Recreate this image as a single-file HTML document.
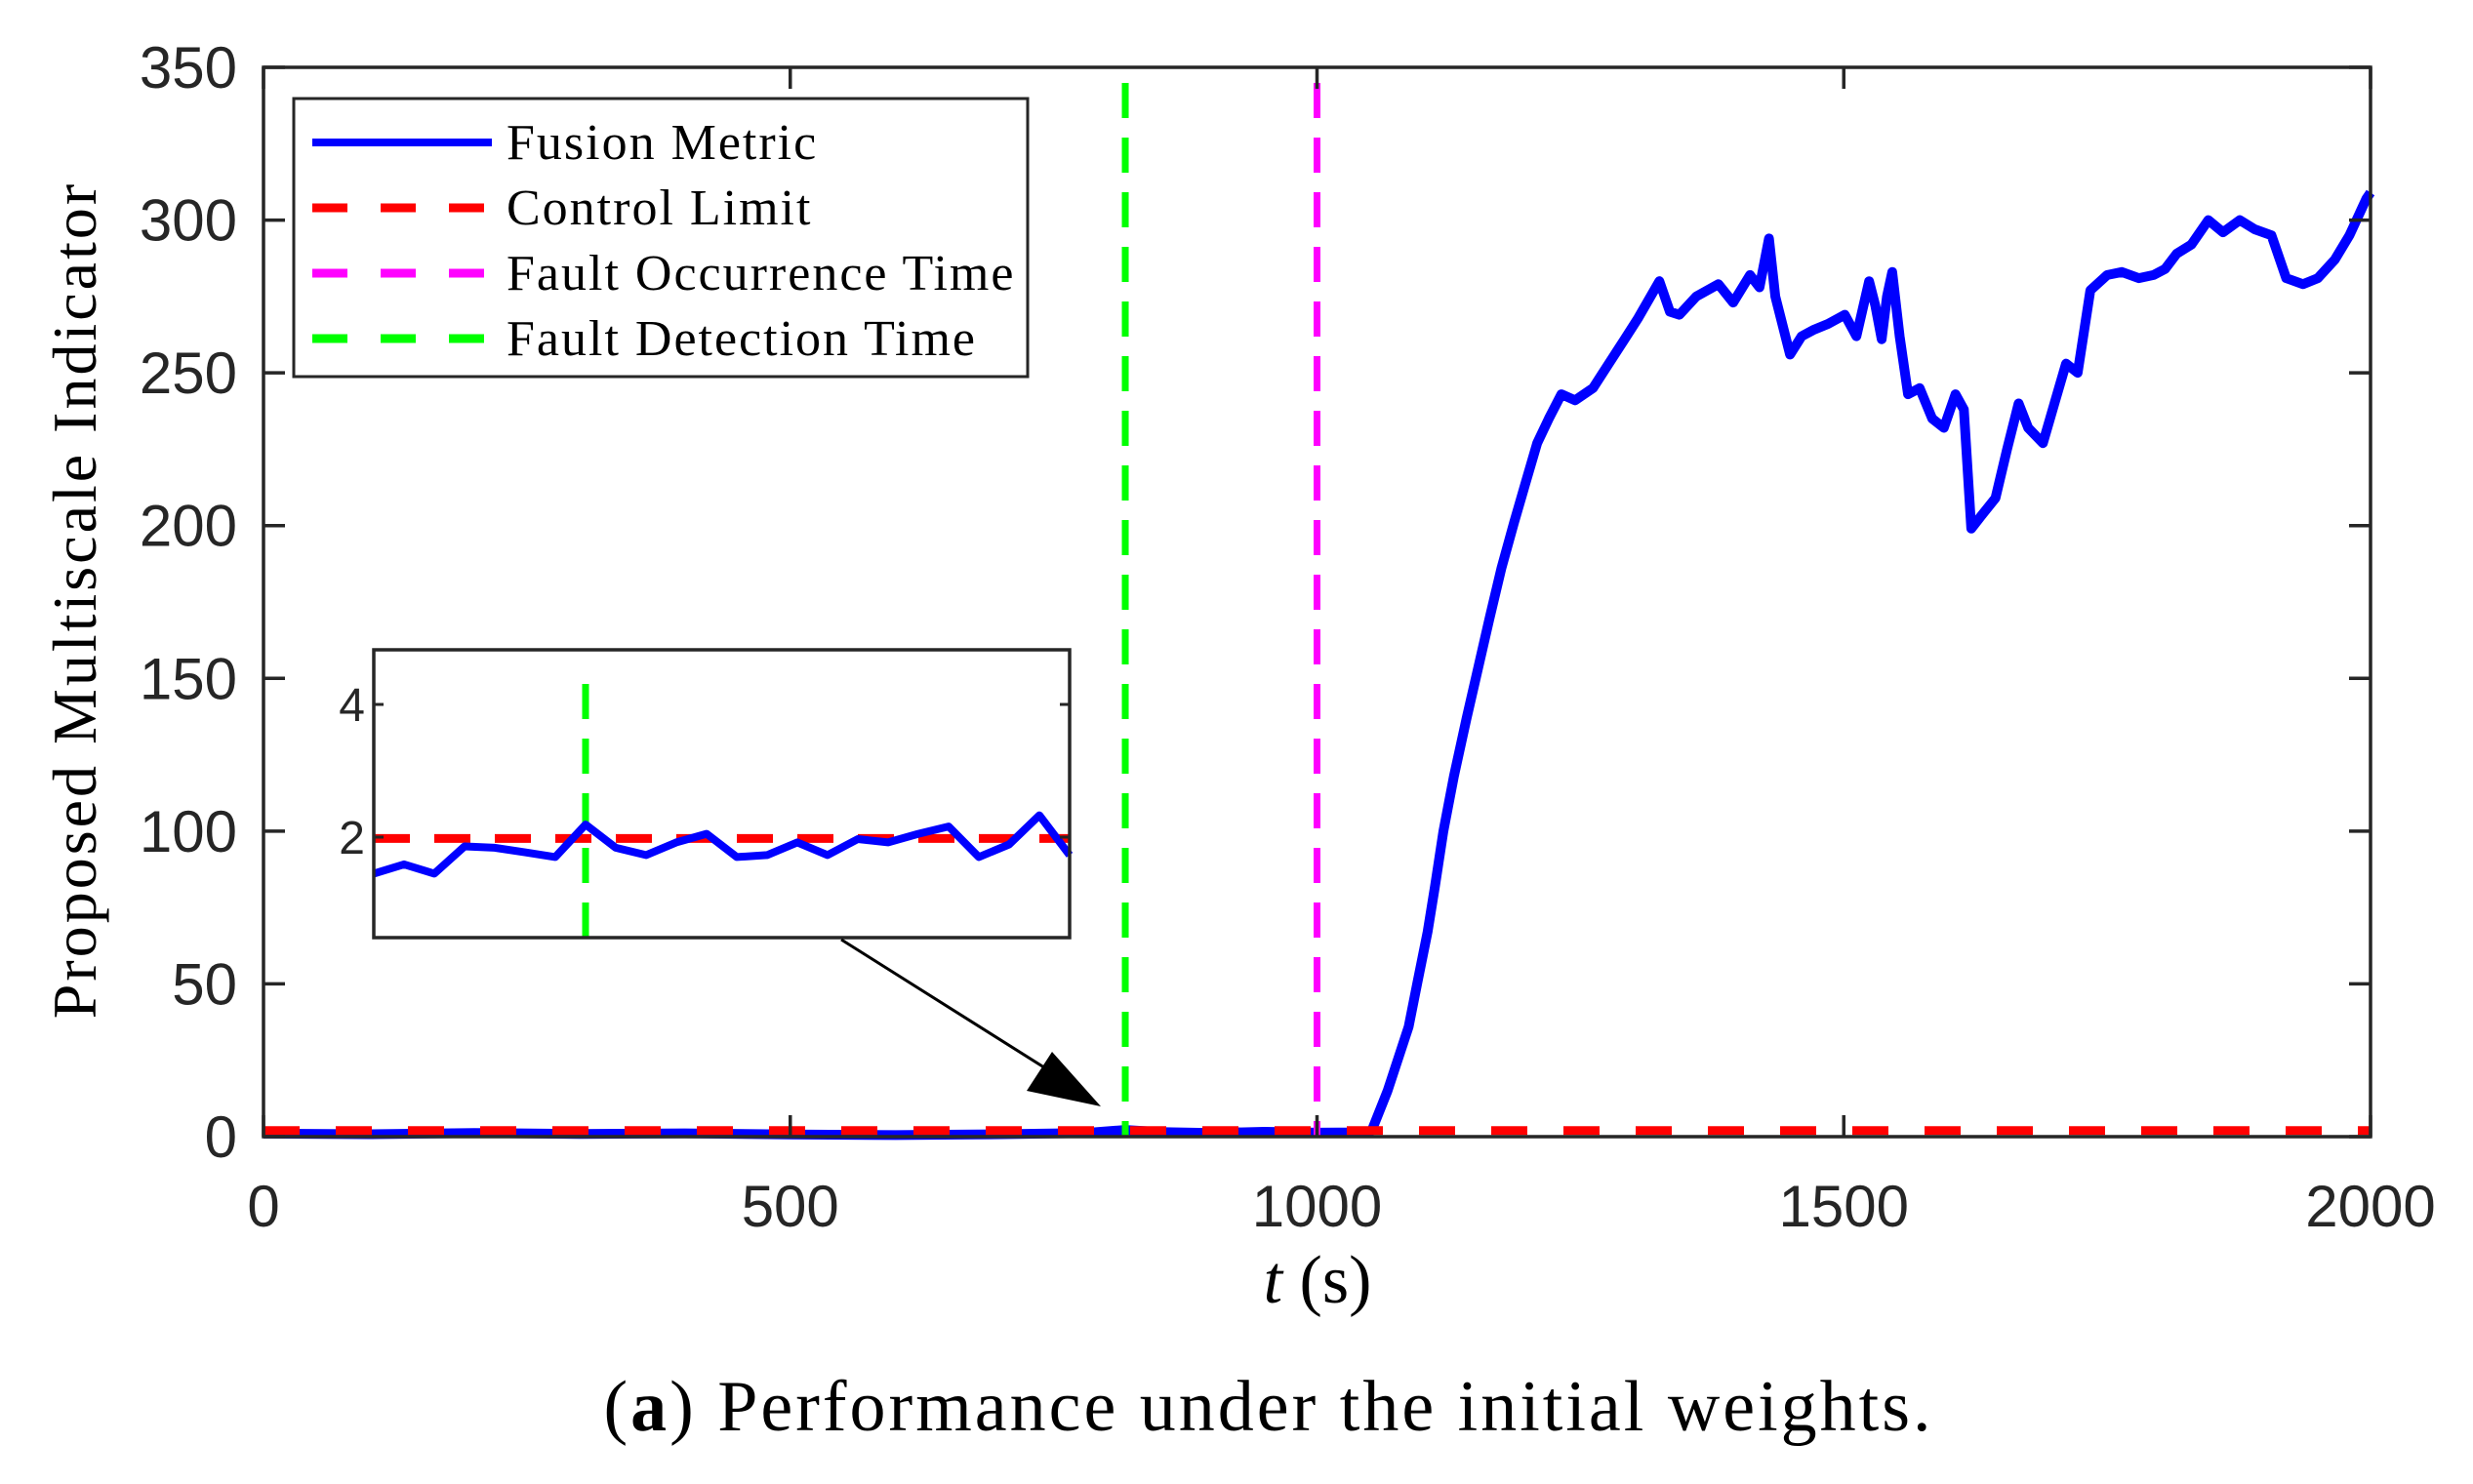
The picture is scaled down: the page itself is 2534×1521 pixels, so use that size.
<!DOCTYPE html>
<html><head><meta charset="utf-8"><style>
html,body{margin:0;padding:0;background:#fff;}
svg{display:block;}
text{font-family:"Liberation Sans",sans-serif;fill:#262626;}
.serif{font-family:"Liberation Serif",serif;fill:#000;}
</style></head><body>
<svg id="chart" width="2534" height="1521" viewBox="0 0 2534 1521">
<g id="main"></g>
<g id="inset"></g>
<g id="legend"></g>
</svg>
<script>
// ---- data ----
const mainT = [0,100,200,300,400,500,600,700,780,818,850,900,950,1000,1040,1052,1067,1087,1095,1105,1112,1120,1130,1142,1152,1164,1175,1187,1198,1209,1220,1232,1245,1262,1275,1292,1305,1325,1335,1344,1360,1381,1395,1411,1420,1429,1435,1449,1460,1471,1485,1501,1512,1524,1530,1536,1541,1546,1553,1561,1572,1584,1595,1606,1614,1621,1630,1644,1655,1666,1675,1689,1700,1711,1722,1734,1750,1764,1780,1794,1805,1816,1830,1846,1860,1876,1890,1906,1920,1936,1950,1966,1980,1996,2000];
const mainV = [1,0.8,1.2,0.9,1.1,0.7,0.5,0.8,1.2,2.2,1.5,1.2,1.6,1.3,1.4,2,15,36,50,67,82,100,118,137,152,170,186,201,214,227,235,243,241,245,252,261,268,280,270,269,275,279,273,282,278,294,275,256,262,264,266,269,262,280,272,261,275,283,262,243,245,235,232,243,238,199,203,209,225,240,232,227,240,253,250,277,282,283,281,282,284,289,292,300,296,300,297,295,281,279,281,287,295,307,309];
const limitV = 2;
const faultOccur = 1000;
const faultDetect = 818;
const xTicks = [0,500,1000,1500,2000];
const yTicks = [0,50,100,150,200,250,300,350];
// inset
const insetV = [1.45,1.59,1.45,1.86,1.84,1.77,1.70,2.19,1.84,1.73,1.92,2.05,1.70,1.73,1.92,1.73,1.97,1.92,2.05,2.16,1.70,1.89,2.33,1.73];
const insetDetectIdx = 7;
const insetYTicks = [2,4];
const insetLimit = 1.98;

const NS="http://www.w3.org/2000/svg";
function mk(tag,attrs,parent){const e=document.createElementNS(NS,tag);for(const k in attrs)e.setAttribute(k,attrs[k]);parent.appendChild(e);return e;}

const L=270,R=2429,T=69,B=1165;
const xS=t=>L+(t/2000)*(R-L);
const yS=v=>B-(v/350)*(B-T);
const main=document.getElementById('main');

let d=mainT.map((t,i)=>(i?'L':'M')+xS(t).toFixed(1)+','+yS(mainV[i]).toFixed(1)).join(' ');
let p=mk('path',{d:d,fill:'none',stroke:'#0000ff','stroke-width':10,'stroke-linejoin':'round'},main);


let cl=mk('line',{x1:L,x2:R,y1:yS(limitV),y2:yS(limitV),stroke:'#ff0000','stroke-width':9,'stroke-dasharray':'37 37'},main);


let gl=mk('line',{x1:xS(faultDetect),x2:xS(faultDetect),y1:85,y2:B,stroke:'#00ff00','stroke-width':7,'stroke-dasharray':'36 20'},main);


let ml=mk('line',{x1:xS(faultOccur),x2:xS(faultOccur),y1:85,y2:B,stroke:'#ff00ff','stroke-width':7,'stroke-dasharray':'36 20'},main);



let fr=mk('rect',{x:L,y:T,width:R-L,height:B-T,fill:'none',stroke:'#262626','stroke-width':3.5},main);


xTicks.forEach(t=>{
  mk('line',{x1:xS(t),x2:xS(t),y1:B,y2:B-22,stroke:'#262626','stroke-width':3.5},main);
  mk('line',{x1:xS(t),x2:xS(t),y1:T,y2:T+22,stroke:'#262626','stroke-width':3.5},main);
  const tx=mk('text',{x:xS(t),y:1257,'font-size':60,'text-anchor':'middle'},main);
  tx.textContent=t;
  
  
});
yTicks.forEach(v=>{
  mk('line',{x1:L,x2:L+22,y1:yS(v),y2:yS(v),stroke:'#262626','stroke-width':3.5},main);
  mk('line',{x1:R,x2:R-22,y1:yS(v),y2:yS(v),stroke:'#262626','stroke-width':3.5},main);
  const tx=mk('text',{x:243,y:yS(v)+21,'font-size':60,'text-anchor':'end'},main);
  tx.textContent=v;
  
  
});

const iL=383,iR=1096,iT=666,iB=961;
const ixS=i=>iL+(i/(insetV.length-1))*(iR-iL);
const iyS=v=>858-(v-2)*68;
const inset=document.getElementById('inset');
mk('rect',{x:iL,y:iT,width:iR-iL,height:iB-iT,fill:'#fff',stroke:'none'},inset);
let il=mk('line',{x1:iL,x2:iR,y1:iyS(insetLimit),y2:iyS(insetLimit),stroke:'#ff0000','stroke-width':9,'stroke-dasharray':'37 25'},inset);


let ig=mk('line',{x1:ixS(insetDetectIdx),x2:ixS(insetDetectIdx),y1:iT+35,y2:iB,stroke:'#00ff00','stroke-width':7,'stroke-dasharray':'36 20'},inset);


let idd=insetV.map((v,i)=>(i?'L':'M')+ixS(i).toFixed(1)+','+iyS(v).toFixed(1)).join(' ');
let ip=mk('path',{d:idd,fill:'none',stroke:'#0000ff','stroke-width':8,'stroke-linejoin':'round'},inset);


let ifr=mk('rect',{x:iL,y:iT,width:iR-iL,height:iB-iT,fill:'none',stroke:'#262626','stroke-width':3.5},inset);


insetYTicks.forEach(v=>{
  mk('line',{x1:iL,x2:iL+10,y1:iyS(v),y2:iyS(v),stroke:'#262626','stroke-width':3},inset);
  mk('line',{x1:iR,x2:iR-10,y1:iyS(v),y2:iyS(v),stroke:'#262626','stroke-width':3},inset);
  const tx=mk('text',{x:iL-9,y:iyS(v)+17,'font-size':48,'text-anchor':'end'},inset);
  tx.textContent=v;
  
  
});
let ar=mk('line',{x1:862,y1:963,x2:1100,y2:1113,stroke:'#000','stroke-width':3},inset);


let ah=mk('polygon',{points:'1128,1134 1052,1118 1078,1078',fill:'#000'},inset);



const lg=document.getElementById('legend');
mk('rect',{x:301,y:101,width:752,height:285,fill:'#fff',stroke:'#262626','stroke-width':3},lg);
const items=[['Fusion Metric','#0000ff',null],['Control Limit','#ff0000','36 34'],['Fault Occurrence Time','#ff00ff','36 34'],['Fault Detection Time','#00ff00','36 34']];
items.forEach((it,i)=>{
  const y=146+i*67;
  const ln=mk('line',{x1:320,x2:504,y1:y,y2:y,stroke:it[1],'stroke-width':it[2]?9:8},lg);
  if(it[2])ln.setAttribute('stroke-dasharray',it[2]);
  
  
  const tx=mk('text',{x:519,y:y+17,'font-size':52,'letter-spacing':2,class:'serif'},lg);
  tx.textContent=it[0];
  
  
});

const xl=mk('text',{x:1350,y:1335,'font-size':70,'text-anchor':'middle',class:'serif'},main);
xl.innerHTML='<tspan font-style="italic">t</tspan> (s)';


const yl=mk('text',{x:0,y:0,'font-size':64,'letter-spacing':3,'text-anchor':'middle',class:'serif',transform:'translate(98,615) rotate(-90)'},main);
yl.textContent='Proposed Multiscale Indicator';


const cap=mk('text',{x:1300,y:1466,'font-size':74,'letter-spacing':3,'text-anchor':'middle',class:'serif'},main);
cap.innerHTML='(<tspan font-weight="bold">a</tspan>) Performance under the initial weights.';


</script>
</body></html>
